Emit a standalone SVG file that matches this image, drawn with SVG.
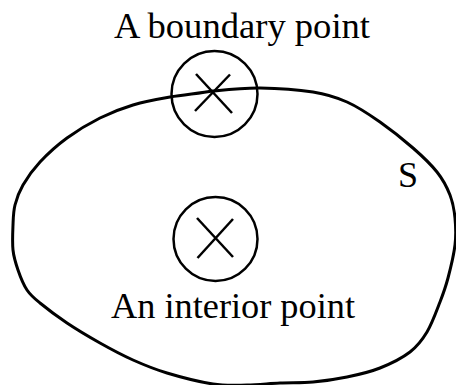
<svg xmlns="http://www.w3.org/2000/svg" width="456" height="385" viewBox="0 0 456 385">
<style>
.t{font-family:"Liberation Serif","Times New Roman",serif;font-size:36px;fill:#000}
.c{fill:none;stroke:#000;stroke-width:2.5}
.x{stroke:#000;stroke-width:2.5;stroke-linecap:butt}
.s{fill:none;stroke:#000;stroke-width:3}
</style>
<rect width="456" height="385" fill="#fff"/>
<g id="set-S">
<path class="s" d="M213,91 C228,89.5 243.3,87.8 260,88 C276.7,88.2 298.5,89.7 313,92 C327.5,94.3 335.8,97 347,102 C358.2,107 369,114.3 380,122 C391,129.7 403.5,139.7 413,148 C422.5,156.3 430.8,164.2 437,172 C443.2,179.8 447,187.3 450,195 C453,202.7 454.2,209.7 455,218 C455.8,226.3 456.2,235 455,245 C453.8,255 450.5,268.5 448,278 C445.5,287.5 443.5,293 440,302 C436.5,311 432,323.7 427,332 C422,340.3 417.8,346 410,352 C402.2,358 390.5,363.8 380,368 C369.5,372.2 358.2,374.7 347,377 C335.8,379.3 324.2,381 313,382 C301.8,383 291,382.5 280,383 C269,383.5 258.2,384.8 247,385 C235.8,385.2 226.3,386 213,384 C199.7,382 180.3,377 167,373 C153.7,369 144.2,365 133,360 C121.8,355 111,349.2 100,343 C89,336.8 77,329.7 67,323 C57,316.3 46.7,308.5 40,303 C33.3,297.5 30.7,295.5 27,290 C23.3,284.5 20.3,276.7 18,270 C15.7,263.3 13.8,257.5 13,250 C12.2,242.5 12.7,232.5 13,225 C13.3,217.5 13.3,211.7 15,205 C16.7,198.3 18.8,192.2 23,185 C27.2,177.8 32.7,169.8 40,162 C47.3,154.2 57,145.3 67,138 C77,130.7 89,123.5 100,118 C111,112.5 121.3,108.5 133,105 C144.7,101.5 156.7,99.3 170,97 C183.3,94.7 199.7,93.3 213,91 Z"/>
<text class="t" x="398" y="187">S</text>
</g>
<g id="boundary-point">
<text class="t" x="114" y="38" textLength="256" lengthAdjust="spacingAndGlyphs">A boundary point</text>
<circle class="c" cx="214.5" cy="94" r="43"/>
<line class="x" x1="196" y1="74" x2="232" y2="113"/>
<line class="x" x1="230" y1="74.5" x2="195" y2="111"/>
</g>
<g id="interior-point">
<circle class="c" cx="215.5" cy="239" r="42"/>
<line class="x" x1="197" y1="218" x2="233" y2="257"/>
<line class="x" x1="233" y1="219" x2="197.5" y2="258"/>
<text class="t" x="111" y="318" textLength="244" lengthAdjust="spacingAndGlyphs">An interior point</text>
</g>
</svg>
